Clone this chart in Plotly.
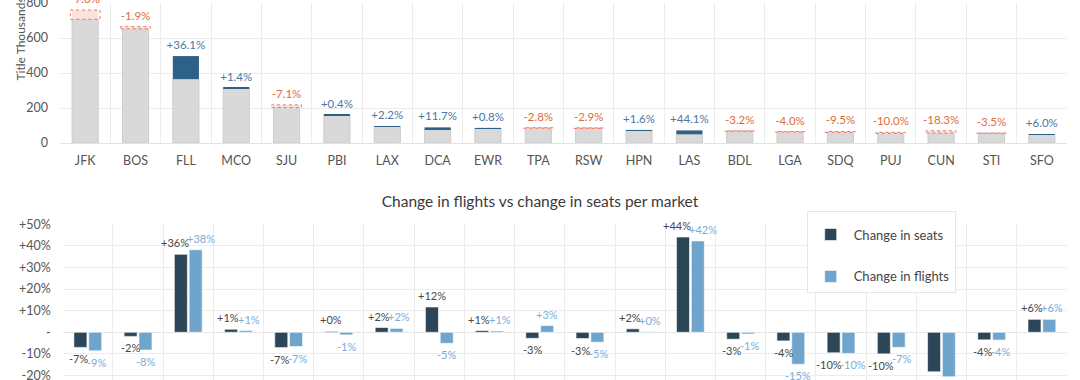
import plotly.graph_objects as go

# ---------------- data ----------------
markets = ["JFK", "BOS", "FLL", "MCO", "SJU", "PBI", "LAX", "DCA", "EWR", "TPA",
           "RSW", "HPN", "LAS", "BDL", "LGA", "SDQ", "PUJ", "CUN", "STI", "SFO"]
seats_prev = [760, 665, 365, 312, 218, 160, 93, 80, 85, 87,
              86, 73, 50, 69, 65, 66, 61, 70, 57, 48]          # thousands, previous period
seats_chg_pct = [-7.0, -1.9, 36.1, 1.4, -7.1, 0.4, 2.2, 11.7, 0.8, -2.8,
                 -2.9, 1.6, 44.1, -3.2, -4.0, -9.5, -10.0, -18.3, -3.5, 6.0]
flights_chg_pct = [-8.6, -8.2, 38.2, 0.8, -6.6, -1.2, 1.8, -5.1, 0.6, 3.1,
                   -4.6, 0.3, 42.3, -0.8, -14.8, -9.8, -7.0, -20.6, -3.6, 6.0]
pct_tickvals = [-20, -10, 0, 10, 20, 30, 40, 50]
pct_ticktext = ["-20%", "-10%", "-", "+10%", "+20%", "+30%", "+40%", "+50%"]

# ---------------- derived ----------------
seats_cur = [p * (1 + c / 100) for p, c in zip(seats_prev, seats_chg_pct)]
base_vals = [min(p, c) for p, c in zip(seats_prev, seats_cur)]
inc_vals = [max(c - p, 0) for p, c in zip(seats_prev, seats_cur)]
dec_vals = [max(p - c, 0) for p, c in zip(seats_prev, seats_cur)]
top_vals = [max(p, c) for p, c in zip(seats_prev, seats_cur)]

BLUE = "#2e6188"
BLUE_TXT = "#4a78a6"
RED_TXT = "#e06c3c"
RED_LINE = "#e8775f"
PINK = "#fbe3dd"
GRAY = "#d9d9d9"
SEATS = "#2d4657"
FLIGHTS = "#6fa5cd"
SEATS_TXT = "#474747"
FLIGHTS_TXT = "#7aaed8"
GRID = "#ececec"
FONT = "Lato, 'Open Sans', sans-serif"
BARGAP = 0.41
NCAT = len(markets)

W, H = 1080, 380
ML, MR, MT, MB = 60, 13, 3, 0
X2_DOM = [0.0027, 1]
Y2_DOM = [0, 0.413]
Y2_RANGE = [-22.1, 50]
LBL_SIZE = 11

fig = go.Figure()

# top chart: stacked bars built with explicit bases on a shared offsetgroup
fig.add_trace(go.Bar(x=markets, y=base_vals, base=[0] * NCAT, offsetgroup="s",
                     marker=dict(color=GRAY, line=dict(color="#cdcdcd", width=1)),
                     showlegend=False, hoverinfo="skip", xaxis="x", yaxis="y"))
fig.add_trace(go.Bar(x=markets, y=inc_vals, base=base_vals, offsetgroup="s",
                     marker=dict(color=BLUE, line=dict(width=0)),
                     showlegend=False, hoverinfo="skip", xaxis="x", yaxis="y"))
fig.add_trace(go.Bar(x=markets, y=dec_vals, base=base_vals, offsetgroup="s",
                     marker=dict(color=PINK, line=dict(width=0)),
                     showlegend=False, hoverinfo="skip", xaxis="x", yaxis="y"))
fig.add_trace(go.Scatter(x=markets, y=top_vals, mode="markers+text",
                         marker=dict(size=5, opacity=0),
                         text=[f"{c:+.1f}%" for c in seats_chg_pct],
                         textposition="top center",
                         textfont=dict(family=FONT, size=11.5,
                                       color=[BLUE_TXT if c >= 0 else RED_TXT for c in seats_chg_pct]),
                         cliponaxis=False, showlegend=False, hoverinfo="skip",
                         xaxis="x", yaxis="y"))

# dashed outlines on the decrease segments
half = (1 - BARGAP) / 2
shapes = []
for i, (p, c) in enumerate(zip(seats_prev, seats_cur)):
    if c < p:
        shapes.append(dict(type="rect", xref="x", yref="y", x0=i - half, x1=i + half,
                           y0=c, y1=p, line=dict(color=RED_LINE, width=1, dash="dot"),
                           fillcolor="rgba(0,0,0,0)", layer="above"))

# bottom chart
fig.add_trace(go.Bar(x=markets, y=seats_chg_pct, name="Change in seats",
                     marker=dict(color=SEATS, line=dict(color="rgba(255,255,255,0.6)", width=1)),
                     legendgroup="a", hoverinfo="x+y", xaxis="x2", yaxis="y2"))
fig.add_trace(go.Bar(x=markets, y=flights_chg_pct, name="Change in flights",
                     marker=dict(color=FLIGHTS, line=dict(color="rgba(255,255,255,0.6)", width=1)),
                     legendgroup="b", hoverinfo="x+y", xaxis="x2", yaxis="y2"))

# value labels for the bottom bars, spread apart when a pair would collide
plot_w = (W - ML - MR) * (X2_DOM[1] - X2_DOM[0])
plot_h = (H - MT - MB) * (Y2_DOM[1] - Y2_DOM[0])
cat_px = plot_w / NCAT
bar_off = (1 - BARGAP) * cat_px / 4          # center of each bar from the category center
px_per_unit = plot_h / (Y2_RANGE[1] - Y2_RANGE[0])


def text_w(s, size=LBL_SIZE):
    widths = {"+": 0.56, "-": 0.36, "%": 0.74}
    return sum(widths.get(ch, 0.54) for ch in s) * size


annotations = []
for i, (s, f) in enumerate(zip(seats_chg_pct, flights_chg_pct)):
    ts, tf = f"{s:+.0f}%", f"{f:+.0f}%"
    push = 0.0
    same_side = (s >= 0) == (f >= 0)
    if same_side and abs(s - f) * px_per_unit < LBL_SIZE + 2:
        push = max(0.0, (text_w(ts) + text_w(tf)) / 2 - 2 * bar_off) / 2
    for val, txt, sign, col in ((s, ts, -1, SEATS_TXT), (f, tf, 1, FLIGHTS_TXT)):
        annotations.append(dict(
            x=markets[i], y=val, xref="x2", yref="y2", text=txt, showarrow=False,
            xanchor="center", yanchor="bottom" if val >= 0 else "top",
            xshift=sign * (bar_off + push), yshift=3 if val >= 0 else -3,
            font=dict(family=FONT, size=LBL_SIZE, color=col)))

annotations.append(dict(text="Title Thousands", textangle=-90, xref="paper", yref="paper",
                        x=-0.0397, y=0.788, xanchor="center", yanchor="bottom",
                        showarrow=False, font=dict(family=FONT, size=12, color="#555")))

axis_font = dict(family=FONT, size=12.5, color="#555")
xrange = [-0.5, NCAT - 0.5]

fig.update_layout(
    width=W, height=H,
    margin=dict(l=ML, r=MR, t=MT, b=MB, autoexpand=False),
    paper_bgcolor="white", plot_bgcolor="white",
    font=dict(family=FONT, color="#444"),
    barmode="group", bargap=BARGAP, bargroupgap=0.12,
    shapes=shapes,
    title=dict(text="Change in flights vs change in seats per market",
               xref="container", x=0.5, xanchor="center",
               yref="container", y=0.469, yanchor="middle",
               font=dict(family=FONT, size=15.5, color="#3a3a3a")),
    xaxis=dict(domain=[0, 1], type="category", range=xrange, tickson="boundaries", showgrid=True,
               gridcolor=GRID, showline=True, linecolor="#e2e2e2", ticks="",
               tickfont=axis_font, ticklabelstandoff=6, anchor="y", automargin=False),
    yaxis=dict(domain=[0.6286, 1], range=[0, 800], tickvals=[0, 200, 400, 600, 800],
               gridcolor=GRID, zeroline=False, ticks="", tickfont=axis_font,
               ticklabelstandoff=11, ticklabeloverflow="allow", anchor="x", automargin=False),
    xaxis2=dict(domain=X2_DOM, type="category", range=xrange, tickson="boundaries",
                showgrid=True, gridcolor=GRID, showticklabels=False, ticks="", anchor="y2",
                automargin=False),
    yaxis2=dict(domain=Y2_DOM, range=Y2_RANGE, tickvals=pct_tickvals,
                ticktext=pct_ticktext, gridcolor=GRID, zeroline=True, zerolinecolor="#e4e4e4",
                zerolinewidth=1, ticks="", tickfont=axis_font, ticklabelstandoff=11,
                ticklabeloverflow="allow", anchor="x2", automargin=False),
    legend=dict(x=0.7415, y=0.449, xanchor="left", yanchor="top",
                bgcolor="white", bordercolor="#e6e6e6", borderwidth=1,
                font=dict(family=FONT, size=13, color="#444"),
                title=dict(text=" ", font=dict(size=6)),
                tracegroupgap=22, itemwidth=36),
    annotations=annotations,
)

fig.write_html("out.html", config={"displayModeBar": False},
               post_script="document.body.style.margin='0';")
